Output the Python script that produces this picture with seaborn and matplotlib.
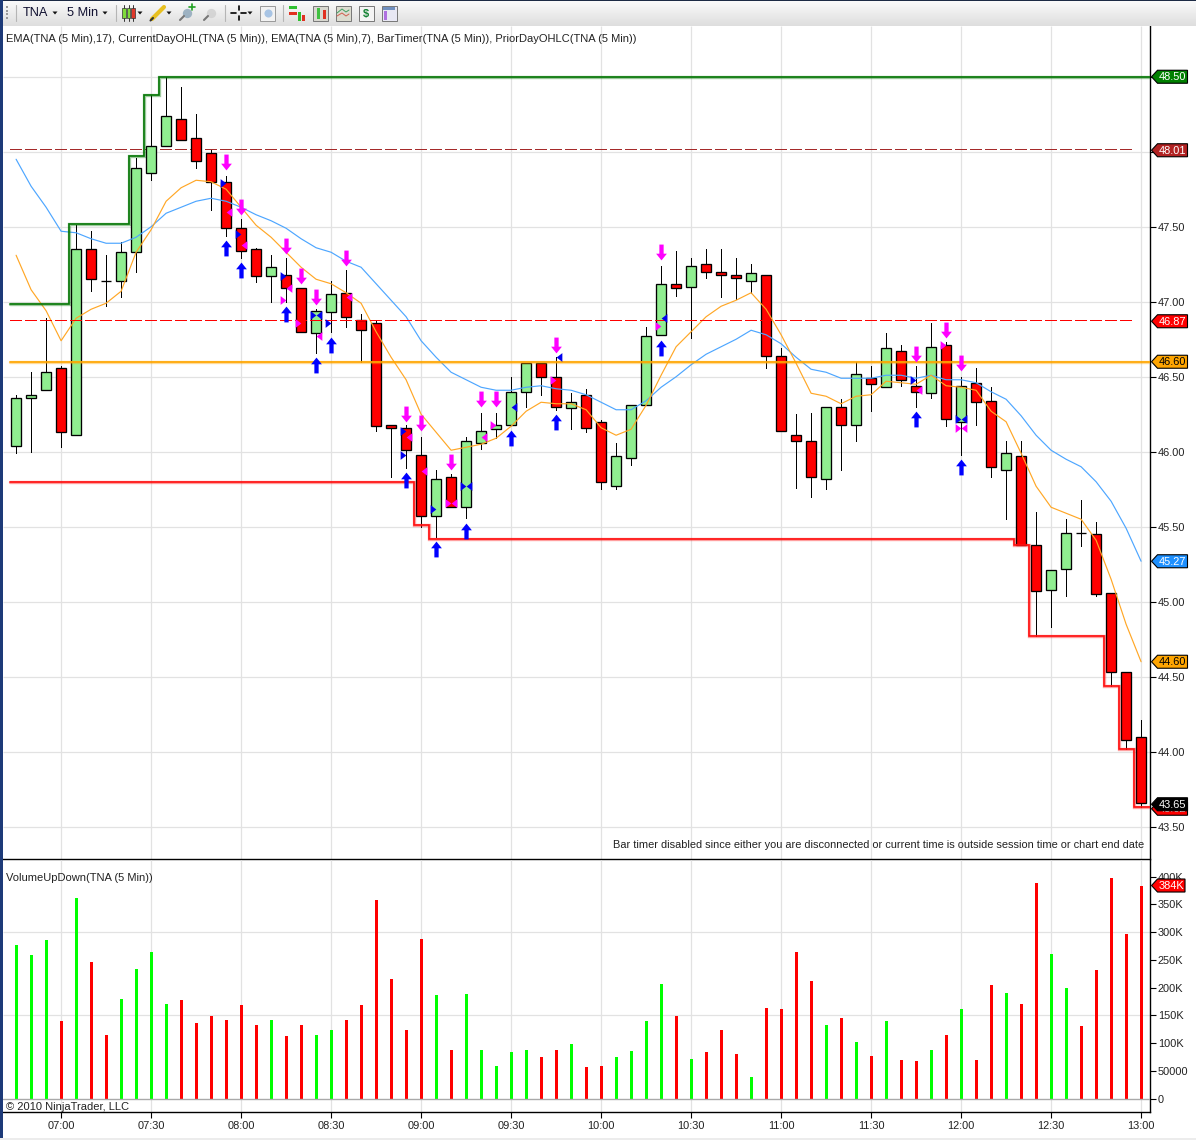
import matplotlib
matplotlib.use('Agg')
import matplotlib.pyplot as plt
from matplotlib.patches import Polygon, Rectangle
from matplotlib.transforms import Affine2D
import numpy as np
import pandas as pd
import seaborn as sns

# candles, one per 5 min bar from 06:45 to 13:00
opens = [46.04, 46.36, 46.41, 46.56, 46.11, 47.35, 47.14, 47.14, 47.33, 47.86, 48.04, 48.22, 48.09,
         47.99, 47.80, 47.49, 47.35, 47.17, 47.18, 47.09, 46.79, 46.93, 47.06, 46.88, 46.86, 46.18,
         46.16, 45.98, 45.57, 45.83, 45.63, 46.06, 46.15, 46.18, 46.40, 46.59, 46.50, 46.29, 46.38,
         46.20, 45.77, 45.96, 46.31, 46.78, 47.12, 47.10, 47.25, 47.20, 47.18, 47.14, 47.18, 46.64,
         46.11, 46.07, 45.82, 46.30, 46.18, 46.49, 46.43, 46.67, 46.44, 46.39, 46.71, 46.20, 46.46,
         46.34, 45.88, 45.97, 45.38, 45.08, 45.22, 45.46, 45.45, 45.06, 44.53, 44.10]
closes = [46.36, 46.38, 46.53, 46.13, 47.35, 47.15, 47.14, 47.33, 47.89, 48.04, 48.24, 48.08, 47.94,
          47.80, 47.49, 47.34, 47.17, 47.23, 47.09, 46.80, 46.94, 47.05, 46.90, 46.81, 46.17, 46.16,
          46.01, 45.57, 45.82, 45.63, 46.07, 46.14, 46.18, 46.40, 46.59, 46.50, 46.30, 46.33, 46.16,
          45.80, 45.97, 46.31, 46.77, 47.12, 47.09, 47.24, 47.20, 47.18, 47.16, 47.19, 46.64, 46.14,
          46.07, 45.83, 46.30, 46.18, 46.52, 46.45, 46.69, 46.48, 46.40, 46.70, 46.22, 46.44, 46.33,
          45.90, 45.99, 45.38, 45.07, 45.21, 45.46, 45.46, 45.05, 44.53, 44.08, 43.66]
highs = [46.38, 46.53, 46.89, 46.57, 47.51, 47.47, 47.31, 47.40, 47.96, 48.38, 48.50, 48.43, 48.25,
         48.01, 47.84, 47.55, 47.36, 47.31, 47.29, 47.09, 46.95, 47.14, 47.21, 46.92, 46.87, 46.18,
         46.18, 46.10, 45.88, 45.85, 46.10, 46.26, 46.26, 46.50, 46.59, 46.59, 46.63, 46.39, 46.42,
         46.21, 46.06, 46.31, 46.83, 47.24, 47.34, 47.29, 47.35, 47.35, 47.29, 47.25, 47.18, 46.69,
         46.25, 46.26, 46.30, 46.35, 46.60, 46.57, 46.79, 46.71, 46.57, 46.86, 46.73, 46.50, 46.56,
         46.43, 46.07, 46.07, 45.60, 45.21, 45.55, 45.68, 45.53, 45.06, 44.53, 44.21]
lows = [45.99, 46.00, 46.41, 46.03, 46.11, 47.07, 46.97, 47.03, 47.20, 47.81, 48.04, 48.08, 47.89,
        47.61, 47.44, 47.29, 47.13, 47.00, 47.00, 46.80, 46.66, 46.80, 46.83, 46.60, 46.14, 45.83,
        45.89, 45.50, 45.43, 45.63, 45.56, 46.02, 46.09, 46.18, 46.30, 46.38, 46.28, 46.15, 46.13,
        45.75, 45.75, 45.91, 46.31, 46.78, 47.04, 46.76, 47.16, 47.03, 47.02, 47.06, 46.56, 46.14,
        45.76, 45.70, 45.75, 45.88, 46.07, 46.27, 46.43, 46.44, 46.30, 46.36, 46.17, 45.98, 46.18,
        45.83, 45.55, 45.38, 44.77, 44.83, 45.04, 45.37, 45.04, 44.44, 44.02, 43.63]

ema17 = [47.95, 47.77, 47.63, 47.47, 47.46, 47.42, 47.39, 47.39, 47.43, 47.50, 47.59, 47.63, 47.67,
         47.69, 47.67, 47.63, 47.58, 47.54, 47.49, 47.42, 47.36, 47.33, 47.27, 47.23, 47.12, 47.01,
         46.90, 46.74, 46.63, 46.53, 46.48, 46.43, 46.41, 46.41, 46.43, 46.44, 46.42, 46.41, 46.38,
         46.33, 46.28, 46.28, 46.34, 46.43, 46.50, 46.58, 46.65, 46.70, 46.75, 46.81, 46.78, 46.72,
         46.63, 46.55, 46.53, 46.49, 46.49, 46.49, 46.51, 46.51, 46.49, 46.51, 46.48, 46.48, 46.46,
         46.40, 46.35, 46.24, 46.11, 46.01, 45.95, 45.90, 45.80, 45.67, 45.49, 45.27]
ema7 = [47.31, 47.08, 46.94, 46.74, 46.89, 46.95, 46.99, 47.07, 47.33, 47.48, 47.67, 47.76, 47.81,
        47.80, 47.75, 47.63, 47.51, 47.43, 47.33, 47.23, 47.15, 47.12, 47.06, 46.99, 46.80, 46.63,
        46.48, 46.25, 46.13, 46.01, 46.03, 46.05, 46.09, 46.17, 46.27, 46.33, 46.32, 46.32, 46.28,
        46.16, 46.11, 46.15, 46.31, 46.51, 46.70, 46.80, 46.90, 46.97, 47.01, 47.06, 46.95, 46.78,
        46.59, 46.39, 46.37, 46.32, 46.37, 46.38, 46.47, 46.46, 46.45, 46.51, 46.44, 46.43, 46.41,
        46.27, 46.20, 45.99, 45.77, 45.63, 45.59, 45.55, 45.41, 45.15, 44.85, 44.60]

# volume in thousands
volume = [276, 258, 285, 139, 361, 247, 115, 180, 234, 265, 171, 177, 137, 148, 142, 168, 132, 142, 112,
          132, 114, 124, 142, 169, 357, 215, 124, 287, 186, 87, 188, 87, 59, 83, 87, 74, 87, 99, 56, 58,
          74, 85, 139, 206, 148, 72, 83, 123, 81, 38, 164, 162, 265, 211, 132, 146, 101, 76, 139, 70, 67,
          87, 114, 162, 69, 204, 191, 171, 388, 261, 200, 130, 231, 397, 296, 384]

# current day high / low, step starts at these bars
day_high_bar = [0, 4, 8, 9, 10]
day_high_val = [46.985, 47.52, 47.97, 48.38, 48.50]
day_low_bar = [0, 27, 28, 67, 68, 73, 74, 75]
day_low_val = [45.80, 45.51, 45.42, 45.38, 44.77, 44.44, 44.02, 43.63]
day_open = 46.60
prior_high = 48.01
prior_low = 46.87

# signal arrows
down_bar = [14, 15, 18, 19, 20, 22, 26, 27, 29, 31, 32, 36, 43, 60, 62, 63]
down_val = [47.93, 47.63, 47.37, 47.17, 47.03, 47.29, 46.25, 46.19, 45.93, 46.35, 46.35, 46.71, 47.33,
            46.65, 46.81, 46.59]
up_bar = [14, 15, 18, 20, 21, 26, 28, 30, 33, 36, 43, 60, 63]
up_val = [47.36, 47.21, 46.92, 46.58, 46.71, 45.81, 45.35, 45.47, 46.09, 46.20, 46.69, 46.22, 45.90]

# bar timer triangles
blue_right_bar = [14, 15, 18, 20, 21, 26, 26, 28, 30, 60, 63]
blue_right_val = [47.79, 47.45, 47.17, 46.91, 46.86, 46.14, 45.98, 45.62, 45.77, 46.48, 46.22]
blue_left_bar = [20, 30, 33, 36, 43, 63]
blue_left_val = [46.91, 45.77, 46.30, 46.63, 46.89, 46.22]
pink_left_bar = [14, 15, 18, 20, 22, 26, 27, 29, 31, 60, 63]
pink_left_val = [47.60, 47.38, 47.09, 46.77, 47.03, 46.10, 45.87, 45.66, 46.10, 46.41, 46.16]
pink_right_bar = [18, 19, 29, 32, 36, 43, 62, 63]
pink_right_val = [47.01, 46.86, 45.66, 46.18, 46.48, 46.84, 46.71, 46.16]

price_ticks = [43.5, 44.0, 44.5, 45.0, 45.5, 46.0, 46.5, 47.0, 47.5, 48.0, 48.5]
vol_ticks = [0, 50, 100, 150, 200, 250, 300, 350, 400]
vol_labels = ['0', '50000', '100K', '150K', '200K', '250K', '300K', '350K', '400K']
time_bars = [3, 9, 15, 21, 27, 33, 39, 45, 51, 57, 63, 69, 75]
time_labels = ['07:00', '07:30', '08:00', '08:30', '09:00', '09:30', '10:00', '10:30', '11:00', '11:30',
               '12:00', '12:30', '13:00']

bars = np.arange(len(opens))
df = pd.DataFrame({'bar': bars, 'open': opens, 'close': closes, 'high': highs, 'low': lows,
                   'ema17': ema17, 'ema7': ema7, 'volume': volume})
df['dir'] = np.where(df['close'] > df['open'], 'up', 'down')

sns.set_theme(style='white')
plt.rcParams['font.family'] = ['Liberation Sans', 'DejaVu Sans']
plt.rcParams['lines.scale_dashes'] = False

W, H = 1196, 1140
FS = 7.9
GRID = '#e2e2e2'
fig = plt.figure(figsize=(W / 100, H / 100), dpi=100, facecolor='white')


def pane(top, bottom):
    return fig.add_axes([2.6 / W, 1 - bottom / H, 1147.5 / W, (bottom - top) / H])


ax = pane(26, 859)
ax2 = pane(860, 1112)
xlim = (-0.9, 75.6)
ax.set_xlim(xlim)
ax.set_ylim(46 + (451.75 - 859) / 150, 46 + (451.75 - 26) / 150)
ax2.set_xlim(xlim)
ax2.set_ylim(-24.3, 430)

for a in (ax, ax2):
    a.patch.set_alpha(0)
    a.yaxis.tick_right()
    for s in ('top', 'left'):
        a.spines[s].set_visible(False)
    for s in ('right', 'bottom'):
        a.spines[s].set_color('black')
        a.spines[s].set_linewidth(1.0)
    a.set_xticks(time_bars)
    a.grid(False)
    a.vlines(time_bars, *a.get_ylim(), color=GRID, lw=0.9, zorder=0)
    a.tick_params(axis='y', length=4, width=0.8, color='black', labelsize=FS, pad=1.5,
                  labelcolor='#222222', right=True, left=False)

ax.set_yticks(price_ticks)
ax.set_yticklabels(['%.2f' % p for p in price_ticks])
ax.hlines(price_ticks, -0.9, 75.6, color=GRID, lw=0.9, zorder=0)
ax.tick_params(axis='x', length=0, labelbottom=False)

ax2.set_yticks(vol_ticks)
ax2.set_yticklabels(vol_labels)
ax2.hlines([150, 300], -0.9, 75.6, color=GRID, lw=0.9, zorder=0)
ax2.set_xticklabels(time_labels)
ax2.tick_params(axis='x', length=4.5, width=0.8, color='black', labelsize=FS, pad=2.3, labelcolor='#222222',
                bottom=True)

# candles
green = df[df['dir'] == 'up']
red = df[df['dir'] == 'down']
ax.vlines(df['bar'], df['low'], df['high'], color='black', lw=0.72, zorder=2, antialiased=False)
ax.bar(green['bar'], green['close'] - green['open'], bottom=green['open'], width=0.63, color='#90ee90',
       edgecolor='black', linewidth=0.95, zorder=3)
ax.bar(red['bar'], red['close'] - red['open'], bottom=red['open'], width=0.63, color='#ff0000',
       edgecolor='black', linewidth=0.95, zorder=3)

# EMAs
sns.lineplot(data=df, x='bar', y='ema17', color='#4da6ff', lw=0.85, ax=ax, zorder=4)
sns.lineplot(data=df, x='bar', y='ema7', color='#ffa726', lw=0.85, ax=ax, zorder=4)


def steps(a, starts, vals, color, end=75.6):
    xs = [b - 0.5 if b > 0 else -0.43 for b in starts] + [end]
    ys = list(vals) + [vals[-1]]
    a.step(xs, ys, where='post', color=color, lw=2.4, alpha=0.4, zorder=5, solid_joinstyle='miter')
    a.step(xs, ys, where='post', color=color, lw=1.2, zorder=5, solid_joinstyle='miter')


steps(ax, day_high_bar, day_high_val, '#087808')
steps(ax, day_low_bar, day_low_val, '#ff1010')
steps(ax, [0], [day_open], '#ffa500')
# the platform rounds these two up a pixel
up_one = ax.transData + Affine2D().translate(0, 1)
ax.plot([-0.43, 74.53], [prior_high, prior_high], color='#a52a2a', lw=0.72, ls=(0, (8.6, 2.2)), zorder=1.5,
        antialiased=False, transform=up_one)
ax.plot([-0.43, 74.53], [prior_low, prior_low], color='#ff0000', lw=0.72, ls=(0, (8.6, 2.2)), zorder=5,
        antialiased=False, transform=up_one)

# arrows and triangles
arrow = [(-0.27, 1), (0.27, 1), (0.27, -0.15), (0.68, -0.15), (0, -1), (-0.68, -0.15), (-0.27, -0.15)]
arrow_up = [(x, -y) for x, y in arrow]
tri_r = [(-0.65, -1), (0.65, 0), (-0.65, 1)]
tri_l = [(0.65, -1), (-0.65, 0), (0.65, 1)]
ax.scatter(down_bar, down_val, marker=arrow, s=130, color='#ff00ff', linewidths=0, zorder=7)
ax.scatter(up_bar, up_val, marker=arrow_up, s=130, color='#0000ff', linewidths=0, zorder=7)
off = 0.18
ax.scatter(np.array(blue_right_bar) - off, blue_right_val, marker=tri_r, s=40, color='#0000ee', linewidths=0, zorder=6)
ax.scatter(np.array(blue_left_bar) + off, blue_left_val, marker=tri_l, s=40, color='#0000ee', linewidths=0, zorder=6)
ax.scatter(np.array(pink_right_bar) - off, pink_right_val, marker=tri_r, s=40, color='#ff00ff', linewidths=0, zorder=6)
ax.scatter(np.array(pink_left_bar) + off, pink_left_val, marker=tri_l, s=40, color='#ff00ff', linewidths=0, zorder=6)

# volume
sns.barplot(data=df, x='bar', y='volume', hue='dir', palette={'up': '#00ff00', 'down': '#ff0000'},
            dodge=False, width=0.2, native_scale=True, legend=False, ax=ax2, zorder=3, saturation=1,
            linewidth=0)
ax2.set_xlim(xlim)
ax2.set_ylim(-24.3, 430)
ax2.set_xticks(time_bars)
ax2.set_xticklabels(time_labels)
ax2.axhline(0, color='#a9a9a9', lw=1.0, zorder=4)
ax.set_xlabel('')
ax.set_ylabel('')
ax2.set_xlabel('')
ax2.set_ylabel('')

# overlay in pixel coordinates for toolbar, captions and price tags
ov = fig.add_axes([0, 0, 1, 1], zorder=10)
ov.set_xlim(0, W)
ov.set_ylim(H, 0)
ov.axis('off')
ov.patch.set_alpha(0)

grad = np.linspace(0, 1, 26).reshape(-1, 1)
ov.imshow(grad, extent=(0, W, 26, 0), cmap=matplotlib.colors.LinearSegmentedColormap.from_list(
    'bar', ['#fbfbfb', '#dedede']), aspect='auto', zorder=0)
ov.set_xlim(0, W)
ov.set_ylim(H, 0)
ov.add_patch(Rectangle((0, 0), W, 1, color='#1c2a44', lw=0))
ov.add_patch(Rectangle((0, 0), 2.5, H, color='#1d3a78', lw=0))
ov.add_patch(Rectangle((0, 1138), W, 2, color='#ececec', lw=0))


def txt(x, y, s, ha='left', size=FS, color='#222222'):
    ov.text(x, y, s, ha=ha, va='center', fontsize=size, color=color)


txt(23, 13, 'TNA', size=9.2, color='#101030')
txt(67, 13, '5 Min', size=9.2, color='#101030')
txt(6, 38.5, 'EMA(TNA (5 Min),17), CurrentDayOHL(TNA (5 Min)), EMA(TNA (5 Min),7), BarTimer(TNA (5 Min)), '
             'PriorDayOHLC(TNA (5 Min))', size=8.02)
txt(1144, 845, 'Bar timer disabled since either you are disconnected or current time is outside session '
               'time or chart end date', ha='right')
txt(6, 878, 'VolumeUpDown(TNA (5 Min))', size=8.05)
txt(6, 1107, '\u00a9 2010 NinjaTrader, LLC', size=8.05)

# toolbar icons, rough
for x in (16, 116, 225, 283):
    ov.plot([x, x], [5, 21], color='#b5b5b5', lw=0.8)
ov.scatter([7, 7, 7, 7], [7, 10.5, 14, 17.5], s=3, marker='s', color='#9a9a9a', linewidths=0)
for x in (55, 105, 140, 169, 250):
    ov.add_patch(Polygon([(x - 2.5, 11.5), (x + 2.5, 11.5), (x, 14.5)], color='#111111', lw=0))
for x, c in ((124, '#7fdc3a'), (128.5, '#7fdc3a'), (133, '#e0382a')):
    ov.plot([x, x], [5, 21], color='#333333', lw=0.7)
    ov.add_patch(Rectangle((x - 1.7, 8), 3.4, 10, facecolor=c, edgecolor='#333333', lw=0.5, zorder=3))
ov.plot([152, 164], [19, 7], color='#e8c020', lw=3)
ov.plot([150.5, 153], [20.5, 18], color='#333333', lw=1.5)
for x, c in ((187, '#8aa4b8'), (211, '#cfcfcf')):
    ov.scatter([x], [13], s=45, color=c, linewidths=0, alpha=0.8)
    ov.plot([x - 7, x - 3], [20, 16], color='#777777', lw=1.5)
ov.plot([192, 192], [4, 10], color='#20a020', lw=1.2)
ov.plot([189, 195], [7, 7], color='#20a020', lw=1.2)
ov.plot([231, 236], [13, 13], color='black', lw=1.2)
ov.plot([241, 246], [13, 13], color='black', lw=1.2)
ov.plot([238.5, 238.5], [6, 10], color='black', lw=1.2)
ov.plot([238.5, 238.5], [16, 20], color='black', lw=1.2)
for x, c, edge in ((267.5, '#f2f2f2', '#999999'), (320, '#d8d8d0', '#777777'), (343, '#dcdcd0', '#777777'),
                   (366, '#f4f4f4', '#777777'), (389, '#e8e8f4', '#777777')):
    ov.add_patch(Rectangle((x - 7.5, 6), 15, 15, facecolor=c, edgecolor=edge, lw=0.7))
ov.scatter([267.5], [13], s=34, color='#a8c4e4', linewidths=0, zorder=3)
ov.add_patch(Rectangle((289, 6), 8, 3, color='#30c030', lw=0))
ov.add_patch(Rectangle((289, 12), 8, 3, color='#e03020', lw=0))
ov.add_patch(Rectangle((298, 12), 3, 9, color='#30c030', lw=0))
ov.add_patch(Rectangle((302, 15), 3, 6, color='#e03020', lw=0))
ov.add_patch(Rectangle((317, 8), 3, 11, color='#40c040', lw=0, zorder=3))
ov.add_patch(Rectangle((323, 10), 3, 9, color='#e03020', lw=0, zorder=3))
ov.plot([337, 342, 346, 349], [13, 9, 12, 10], color='#40a060', lw=0.7)
ov.plot([337, 342, 346, 349], [16, 13, 16, 14], color='#d06050', lw=0.7)
ov.text(366, 13.5, '$', ha='center', va='center', fontsize=8, color='#108030', fontweight='bold', zorder=3)
ov.add_patch(Rectangle((383, 7), 12, 3, color='#7090c0', lw=0, zorder=3))
ov.add_patch(Rectangle((384, 11), 3, 9, color='#b070e0', lw=0, zorder=3))


def price_y(a, value):
    return H - a.transData.transform((0, value))[1]


tag_z = [12]


def tag(y, s, face, color='white', right=1187.5, size=FS):
    # later tags sit on top of earlier ones, both patch and text
    z = tag_z[0]
    tag_z[0] += 2
    pts = [(1151.5, y), (1157.5, y - 6.5), (right, y - 6.5), (right, y + 6.5), (1157.5, y + 6.5)]
    ov.add_patch(Polygon(pts, closed=True, facecolor=face, edgecolor='black', lw=0.8, zorder=z))
    ov.text(1158.5, y + 0.3, s, ha='left', va='center', fontsize=size, color=color, zorder=z + 1)


fig.canvas.draw()
tag(price_y(ax, 48.50), '48.50', '#008000')
tag(price_y(ax, prior_high), '48.01', '#b22222')
tag(price_y(ax, prior_low), '46.87', '#ff0000')
tag(price_y(ax, day_open), '46.60', '#ffa500', color='black')
tag(price_y(ax, 45.27), '45.27', '#1e90ff')
tag(price_y(ax, 44.60), '44.60', '#ffa500', color='black')
tag(price_y(ax, 43.62), '43.62', '#ff0000')
tag(price_y(ax, 43.65), '43.65', 'black')
tag(price_y(ax2, 384), '384K', '#ff0000', right=1185)

fig.savefig('out.png', dpi=100)
